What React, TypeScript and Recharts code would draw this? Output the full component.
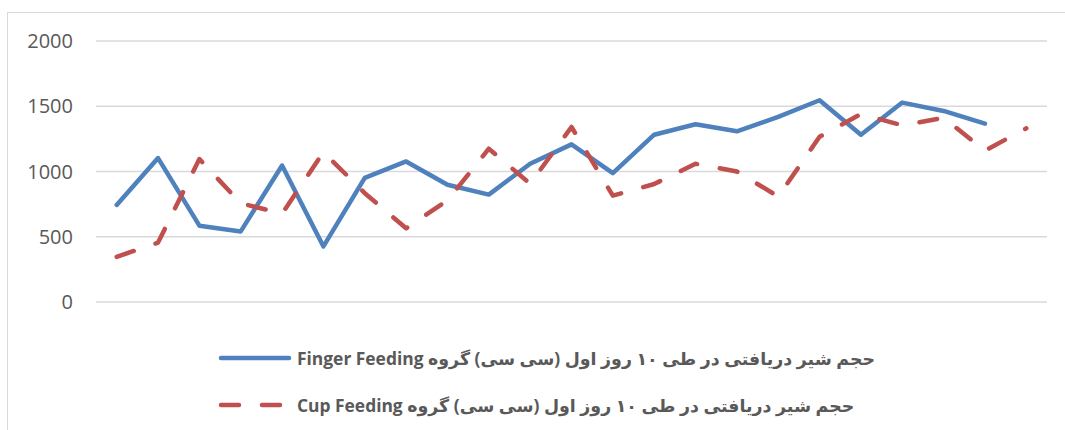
import { LineChart, Line, XAxis, YAxis, CartesianGrid } from "recharts";

// 23 days, no category labels shown on the x axis
const days = [
  "1", "2", "3", "4", "5", "6", "7", "8", "9", "10", "11", "12",
  "13", "14", "15", "16", "17", "18", "19", "20", "21", "22", "23",
];

const fingerFeeding = [
  744, 1103, 585, 541, 1046, 426, 951, 1077, 898, 823, 1059, 1208,
  988, 1282, 1362, 1308, 1418, 1546, 1282, 1528, 1464, 1367,
];

const cupFeeding = [
  346, 455, 1095, 757, 677, 1149, 834, 565, 779, 1175, 906, 1341,
  815, 904, 1059, 1000, 808, 1266, 1441, 1354, 1411, 1160, 1331,
];

const yTicks = [0, 500, 1000, 1500, 2000];

const fingerLabel = "حجم شیر دریافتی در طی ۱۰ روز اول (سی سی) گروه Finger Feeding";
const cupLabel = "حجم شیر دریافتی در طی ۱۰ روز اول (سی سی) گروه Cup Feeding";

const BLUE = "#4F81BD";
const RED = "#C0504D";
const DASH = "18 23";

const data = days.map((day, i) => ({
  day,
  finger: fingerFeeding[i] ?? null,
  cup: cupFeeding[i] ?? null,
}));

const legendItems = [
  { key: "finger", label: fingerLabel, color: BLUE, dash: undefined as string | undefined },
  { key: "cup", label: cupLabel, color: RED, dash: DASH },
];

export default function App() {
  return (
    <div
      style={{
        position: "absolute",
        left: 0,
        top: 0,
        width: 1065,
        height: 430,
        background: "#fff",
        overflow: "hidden",
        fontFamily: '"Open Sans", "DejaVu Sans", sans-serif',
      }}
    >
      {/* chart frame */}
      <div
        style={{
          position: "absolute",
          left: 7,
          top: 12,
          width: 1070,
          height: 440,
          border: "1.5px solid #d9d9d9",
          boxSizing: "border-box",
        }}
      />

      <div style={{ position: "absolute", left: 8, top: 13 }}>
        <LineChart
          width={1054}
          height={320}
          data={data}
          margin={{ top: 28, right: 15, bottom: 31, left: 0 }}
        >
          <CartesianGrid vertical={false} stroke="#d9d9d9" strokeWidth={1.3} />
          <XAxis dataKey="day" hide padding={{ left: 20.7, right: 20.7 }} />
          <YAxis
            width={88}
            domain={[0, 2000]}
            ticks={yTicks}
            interval={0}
            axisLine={false}
            tickLine={false}
            tickSize={6}
            tickMargin={17}
            tick={{ fill: "#595959", fontSize: 20 }}
          />
          <Line
            dataKey="finger"
            stroke={BLUE}
            strokeWidth={4.5}
            strokeLinejoin="round"
            strokeLinecap="round"
            dot={false}
            isAnimationActive={false}
          />
          <Line
            dataKey="cup"
            stroke={RED}
            strokeWidth={4.5}
            strokeDasharray={DASH}
            strokeLinejoin="round"
            strokeLinecap="round"
            dot={false}
            isAnimationActive={false}
          />
        </LineChart>
      </div>

      {/* legend */}
      <div style={{ position: "absolute", left: 216, top: 343 }}>
        {legendItems.map((item) => (
          <div
            key={item.key}
            style={{ display: "flex", alignItems: "center", height: 30, marginBottom: 17 }}
          >
            <svg width={78} height={10} style={{ flex: "none" }}>
              <line
                x1={5}
                y1={5}
                x2={73}
                y2={5}
                stroke={item.color}
                strokeWidth={4.5}
                strokeLinecap="round"
                strokeDasharray={item.dash}
              />
            </svg>
            <span
              dir="rtl"
              style={{
                marginLeft: 3,
                fontSize: 17.4,
                fontWeight: 700,
                color: "#595959",
                whiteSpace: "nowrap",
                unicodeBidi: "isolate",
              }}
            >
              {item.label}
            </span>
          </div>
        ))}
      </div>
    </div>
  );
}
